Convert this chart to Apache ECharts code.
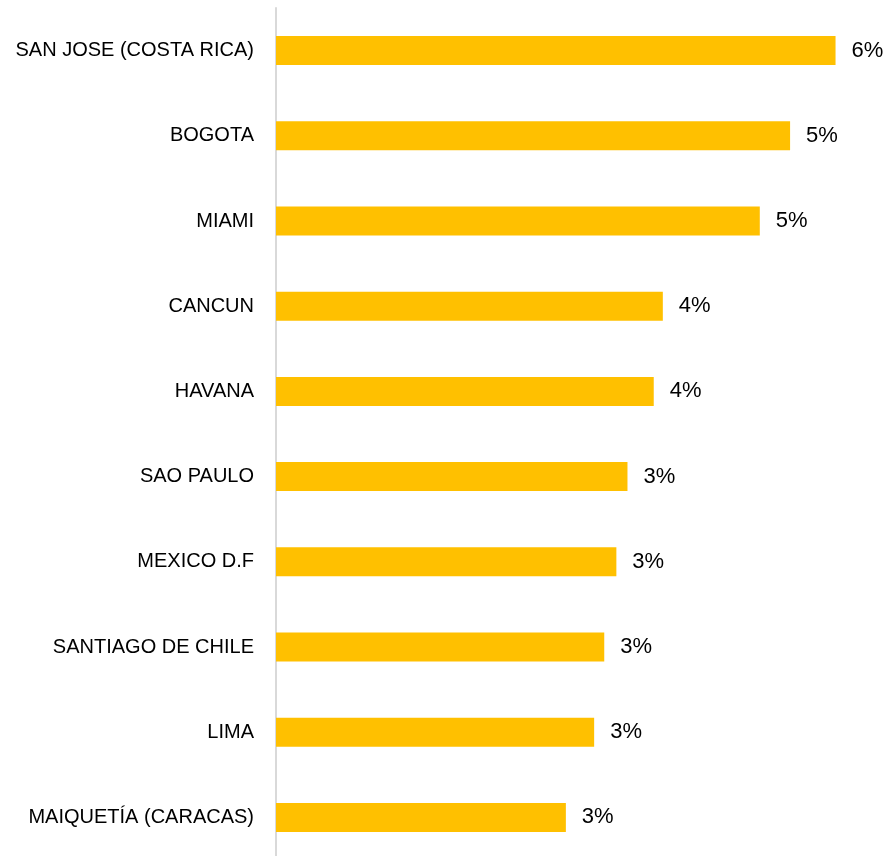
<!DOCTYPE html>
<html><head><meta charset="utf-8">
<script src="https://cdn.jsdelivr.net/npm/echarts@6/dist/echarts.min.js"></script>
<style>html,body{margin:0;padding:0;background:#fff}#c{width:889px;height:856px}</style>
</head><body><div id="c"></div>
<script>
const categories = ["SAN JOSE (COSTA RICA)","BOGOTA","MIAMI","CANCUN","HAVANA","SAO PAULO","MEXICO D.F","SANTIAGO DE CHILE","LIMA","MAIQUETÍA (CARACAS)"];
const values = [5.54, 5.09, 4.79, 3.83, 3.74, 3.48, 3.37, 3.25, 3.15, 2.87];
const FONT = "'Liberation Sans Narrow','Arial Narrow','Liberation Sans',Arial,sans-serif";
const chart = echarts.init(document.getElementById('c'));
chart.setOption({
  animation:false,
  grid:{left:276,right:7,top:8,bottom:-4,containLabel:false,outerBoundsMode:'none'},
  xAxis:{type:'value',min:0,max:6,show:false},
  yAxis:{type:'category',inverse:true,data:categories,
    axisLine:{show:true,lineStyle:{color:'#d9d9d9',width:2}},
    axisTick:{show:false},
    axisLabel:{color:'#000',fontSize:20,fontFamily:FONT,margin:22}},
  series:[{type:'bar',data:values,barWidth:29,
    itemStyle:{color:'#FFC000'},
    label:{show:true,position:'right',distance:16,color:'#000',fontSize:22,fontFamily:FONT,
      formatter:p=>Math.round(p.value)+'%'}}]
});
</script></body></html>
